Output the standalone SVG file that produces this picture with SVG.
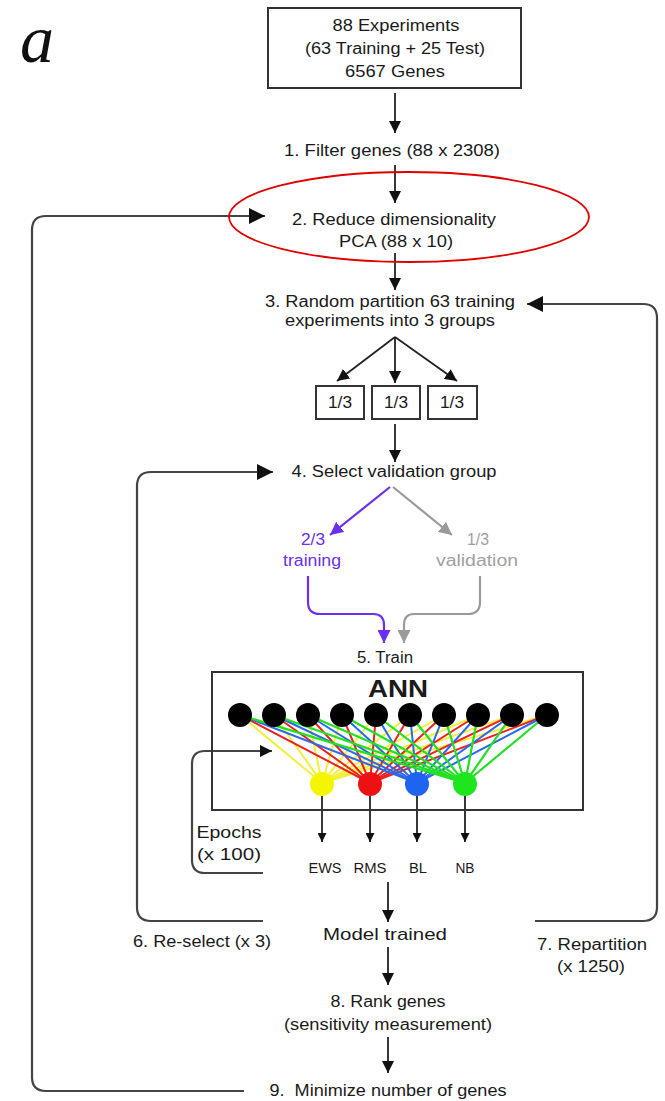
<svg xmlns="http://www.w3.org/2000/svg" width="665" height="1101" viewBox="0 0 665 1101">
<defs>
<style>
.t{font-family:"Liberation Sans",Arial,sans-serif;font-size:16px;fill:#1a1a1a;text-anchor:middle}
.ln{fill:none;stroke:#222;stroke-width:1.8}
.lp{fill:none;stroke:#444;stroke-width:2.2}
.box{fill:#fff;stroke:#333;stroke-width:2}
.in{fill:#000}
.wy{stroke:#f2f03a;stroke-width:2}
.wr{stroke:#ee2020;stroke-width:2}
.wb{stroke:#2a6ae8;stroke-width:2}
.wg{stroke:#22e022;stroke-width:2.2}
</style>
<marker id="ah" viewBox="0 0 12 12" refX="12" refY="6" markerWidth="12" markerHeight="12" markerUnits="userSpaceOnUse" orient="auto"><path d="M0,0 L12,6 L0,12 z" fill="#111"/></marker>
<marker id="ahs" viewBox="0 0 10 10" refX="10" refY="5" markerWidth="9" markerHeight="9" markerUnits="userSpaceOnUse" orient="auto"><path d="M0,0 L10,5 L0,10 z" fill="#111"/></marker>
<marker id="ahb" viewBox="0 0 16 16" refX="16" refY="8" markerWidth="16" markerHeight="16" markerUnits="userSpaceOnUse" orient="auto"><path d="M0,0 L16,8 L0,16 z" fill="#111"/></marker>
<marker id="ahp" viewBox="0 0 12 12" refX="12" refY="6" markerWidth="13" markerHeight="13" markerUnits="userSpaceOnUse" orient="auto"><path d="M0,0 L12,6 L0,12 z" fill="#6a2ff0"/></marker>
<marker id="ahg" viewBox="0 0 12 12" refX="12" refY="6" markerWidth="13" markerHeight="13" markerUnits="userSpaceOnUse" orient="auto"><path d="M0,0 L12,6 L0,12 z" fill="#9a9a9a"/></marker>
</defs>
<rect width="665" height="1101" fill="#fff"/>

<text x="20" y="62" font-family="Liberation Serif, serif" font-style="italic" font-size="68" fill="#111">a</text>

<g id="connectors">
<line class="ln" x1="395" y1="93" x2="395" y2="133" marker-end="url(#ah)"/>
<line class="ln" x1="395" y1="165" x2="395" y2="203" marker-end="url(#ah)"/>
<line class="ln" x1="395" y1="253" x2="395" y2="290" marker-end="url(#ah)"/>
<line class="ln" x1="395" y1="337" x2="337" y2="381" marker-end="url(#ah)"/>
<line class="ln" x1="395" y1="337" x2="395" y2="383" marker-end="url(#ah)"/>
<line class="ln" x1="395" y1="337" x2="457" y2="381" marker-end="url(#ah)"/>
<line class="ln" x1="395" y1="424" x2="395" y2="462" marker-end="url(#ah)"/>
<line x1="390" y1="487" x2="330" y2="535" stroke="#6a2ff0" stroke-width="2.2" marker-end="url(#ahp)"/>
<line x1="393" y1="487" x2="452" y2="535" stroke="#9a9a9a" stroke-width="2.2" marker-end="url(#ahg)"/>
<path d="M308,576 V602 Q308,614 320,614 H373 Q384,614 384,625 V643" fill="none" stroke="#6a2ff0" stroke-width="2.2" marker-end="url(#ahp)"/>
<path d="M480,576 V602 Q480,614 468,614 H414 Q404,614 404,625 V643" fill="none" stroke="#9a9a9a" stroke-width="2.2" marker-end="url(#ahg)"/>
<line class="ln" x1="322" y1="796" x2="322" y2="842" marker-end="url(#ahs)"/>
<line class="ln" x1="370" y1="796" x2="370" y2="842" marker-end="url(#ahs)"/>
<line class="ln" x1="417" y1="796" x2="417" y2="842" marker-end="url(#ahs)"/>
<line class="ln" x1="465" y1="796" x2="465" y2="842" marker-end="url(#ahs)"/>
<line class="ln" x1="388" y1="882" x2="388" y2="922" marker-end="url(#ah)"/>
<line class="ln" x1="388" y1="947" x2="388" y2="985" marker-end="url(#ah)"/>
<line class="ln" x1="388" y1="1037" x2="388" y2="1073" marker-end="url(#ah)"/>
<path class="lp" d="M244,1091 H46 Q32,1091 32,1077 V230 Q32,216 46,216 H265" marker-end="url(#ahb)"/>
<path class="lp" d="M263,921 H151 Q137,921 137,907 V486 Q137,472 151,472 H273" marker-end="url(#ahb)"/>
<path class="lp" d="M535,921 H643 Q657,921 657,907 V318 Q657,304 643,304 H527" marker-end="url(#ahb)"/>
<path class="lp" d="M263,873 H205 Q192,873 192,860 V764 Q192,751 205,751 H272" marker-end="url(#ah)"/>
</g>

<g id="n0">
<rect class="box" x="268" y="8" width="253" height="80"/>
<text class="t" x="396" y="31" textLength="127" lengthAdjust="spacingAndGlyphs">88 Experiments</text>
<text class="t" x="395" y="54" textLength="180" lengthAdjust="spacingAndGlyphs">(63 Training + 25 Test)</text>
<text class="t" x="395" y="77" textLength="100" lengthAdjust="spacingAndGlyphs">6567 Genes</text>
</g>
<g id="n1"><text class="t" x="392" y="156" textLength="216" lengthAdjust="spacingAndGlyphs">1. Filter genes (88 x 2308)</text></g>
<g id="n2">
<text class="t" x="394" y="225" textLength="204" lengthAdjust="spacingAndGlyphs">2. Reduce dimensionality</text>
<text class="t" x="396" y="247" textLength="114" lengthAdjust="spacingAndGlyphs">PCA (88 x 10)</text>
<ellipse cx="409" cy="217" rx="180" ry="45" fill="none" stroke="#e00000" stroke-width="1.8"/>
</g>
<g id="n3">
<text class="t" x="390" y="307" textLength="250" lengthAdjust="spacingAndGlyphs">3. Random partition 63 training</text>
<text class="t" x="390" y="326" textLength="210" lengthAdjust="spacingAndGlyphs">experiments into 3 groups</text>
</g>
<g id="g1"><rect class="box" x="316" y="386" width="48" height="33"/><text class="t" x="340" y="408" textLength="24" lengthAdjust="spacingAndGlyphs">1/3</text></g>
<g id="g2"><rect class="box" x="372" y="386" width="48" height="33"/><text class="t" x="396" y="408" textLength="24" lengthAdjust="spacingAndGlyphs">1/3</text></g>
<g id="g3"><rect class="box" x="428" y="386" width="49" height="33"/><text class="t" x="452" y="408" textLength="24" lengthAdjust="spacingAndGlyphs">1/3</text></g>
<g id="n4"><text class="t" x="394" y="477" textLength="205" lengthAdjust="spacingAndGlyphs">4. Select validation group</text></g>
<g id="ntrain">
<text class="t" x="313" y="545" style="fill:#6a2ff0" textLength="24" lengthAdjust="spacingAndGlyphs">2/3</text>
<text class="t" x="312" y="566" style="fill:#6a2ff0" textLength="58" lengthAdjust="spacingAndGlyphs">training</text>
</g>
<g id="nval">
<text class="t" x="478" y="545" style="fill:#a0a0a0" textLength="22" lengthAdjust="spacingAndGlyphs">1/3</text>
<text class="t" x="477" y="566" style="fill:#a0a0a0" textLength="82" lengthAdjust="spacingAndGlyphs">validation</text>
</g>
<g id="n5"><text class="t" x="385" y="663" textLength="56" lengthAdjust="spacingAndGlyphs">5. Train</text></g>

<g id="ann">
<rect x="212" y="672" width="371" height="138" fill="none" stroke="#333" stroke-width="2"/>
<text class="t" x="398" y="697" style="font-weight:bold;font-size:24px" textLength="60" lengthAdjust="spacingAndGlyphs">ANN</text>
<g class="wy">
<line x1="240" y1="715" x2="322" y2="783"/><line x1="274" y1="715" x2="322" y2="783"/><line x1="308" y1="715" x2="322" y2="783"/><line x1="342" y1="715" x2="322" y2="783"/><line x1="376" y1="715" x2="322" y2="783"/><line x1="410" y1="715" x2="322" y2="783"/><line x1="444" y1="715" x2="322" y2="783"/><line x1="478" y1="715" x2="322" y2="783"/><line x1="512" y1="715" x2="322" y2="783"/><line x1="547" y1="715" x2="322" y2="783"/>
</g>
<g class="wr">
<line x1="240" y1="715" x2="370" y2="783"/><line x1="274" y1="715" x2="370" y2="783"/><line x1="308" y1="715" x2="370" y2="783"/><line x1="342" y1="715" x2="370" y2="783"/><line x1="376" y1="715" x2="370" y2="783"/><line x1="410" y1="715" x2="370" y2="783"/><line x1="444" y1="715" x2="370" y2="783"/><line x1="478" y1="715" x2="370" y2="783"/><line x1="512" y1="715" x2="370" y2="783"/><line x1="547" y1="715" x2="370" y2="783"/>
</g>
<g class="wb">
<line x1="240" y1="715" x2="417" y2="783"/><line x1="274" y1="715" x2="417" y2="783"/><line x1="308" y1="715" x2="417" y2="783"/><line x1="342" y1="715" x2="417" y2="783"/><line x1="376" y1="715" x2="417" y2="783"/><line x1="410" y1="715" x2="417" y2="783"/><line x1="444" y1="715" x2="417" y2="783"/><line x1="478" y1="715" x2="417" y2="783"/><line x1="512" y1="715" x2="417" y2="783"/><line x1="547" y1="715" x2="417" y2="783"/>
</g>
<g class="wg">
<line x1="240" y1="715" x2="465" y2="783"/><line x1="274" y1="715" x2="465" y2="783"/><line x1="308" y1="715" x2="465" y2="783"/><line x1="342" y1="715" x2="465" y2="783"/><line x1="376" y1="715" x2="465" y2="783"/><line x1="410" y1="715" x2="465" y2="783"/><line x1="444" y1="715" x2="465" y2="783"/><line x1="478" y1="715" x2="465" y2="783"/><line x1="512" y1="715" x2="465" y2="783"/><line x1="547" y1="715" x2="465" y2="783"/>
</g>
<g class="in">
<circle cx="240" cy="715" r="12"/><circle cx="274" cy="715" r="12"/><circle cx="308" cy="715" r="12"/><circle cx="342" cy="715" r="12"/><circle cx="376" cy="715" r="12"/><circle cx="410" cy="715" r="12"/><circle cx="444" cy="715" r="12"/><circle cx="478" cy="715" r="12"/><circle cx="512" cy="715" r="12"/><circle cx="547" cy="715" r="12"/>
</g>
<circle cx="322" cy="784" r="12" fill="#f5f500"/>
<circle cx="370" cy="784" r="12" fill="#ee1111"/>
<circle cx="417" cy="784" r="12" fill="#1e64f0"/>
<circle cx="465" cy="784" r="12" fill="#1ee61e"/>
</g>

<g id="outs">
<text class="t" x="325" y="873" style="font-size:14px" textLength="33" lengthAdjust="spacingAndGlyphs">EWS</text>
<text class="t" x="370" y="873" style="font-size:14px" textLength="33" lengthAdjust="spacingAndGlyphs">RMS</text>
<text class="t" x="418" y="873" style="font-size:14px" textLength="18" lengthAdjust="spacingAndGlyphs">BL</text>
<text class="t" x="465" y="873" style="font-size:14px" textLength="19" lengthAdjust="spacingAndGlyphs">NB</text>
</g>
<g id="nepochs">
<text class="t" x="229" y="838" style="font-size:16px" textLength="65" lengthAdjust="spacingAndGlyphs">Epochs</text>
<text class="t" x="229" y="860" style="font-size:16px" textLength="64" lengthAdjust="spacingAndGlyphs">(x 100)</text>
</g>
<g id="nmodel"><text class="t" x="385" y="940" style="font-size:17px" textLength="124" lengthAdjust="spacingAndGlyphs">Model trained</text></g>
<g id="n6"><text class="t" x="202" y="947" textLength="138" lengthAdjust="spacingAndGlyphs">6. Re-select (x 3)</text></g>
<g id="n7">
<text class="t" x="592" y="950" textLength="110" lengthAdjust="spacingAndGlyphs">7. Repartition</text>
<text class="t" x="591" y="972" textLength="68" lengthAdjust="spacingAndGlyphs">(x 1250)</text>
</g>
<g id="n8">
<text class="t" x="388" y="1007" textLength="115" lengthAdjust="spacingAndGlyphs">8. Rank genes</text>
<text class="t" x="388" y="1030" textLength="208" lengthAdjust="spacingAndGlyphs">(sensitivity measurement)</text>
</g>
<g id="n9"><text class="t" x="388" y="1096" textLength="237" lengthAdjust="spacingAndGlyphs" xml:space="preserve">9.  Minimize number of genes</text></g>
</svg>
